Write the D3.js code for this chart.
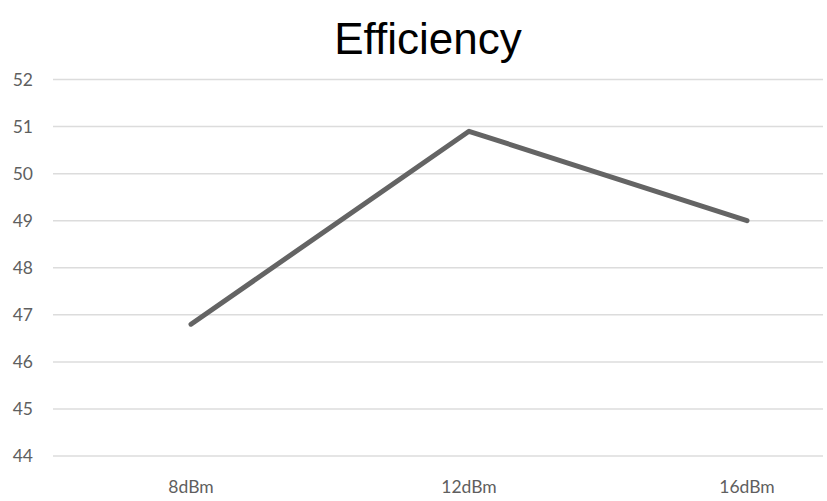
<!DOCTYPE html>
<html><head><meta charset="utf-8">
<script src="https://cdn.jsdelivr.net/npm/d3@7"></script>
<style>body{margin:0;background:#fff}</style>
</head><body>
<svg id="c" width="827" height="501"></svg>
<script>
const categories = ["8dBm", "12dBm", "16dBm"];
const values = [46.8, 50.9, 49.0];
const yTicks = [44, 45, 46, 47, 48, 49, 50, 51, 52];
const title = "Efficiency";

const svg = d3.select("#c");
const x = d3.scalePoint().domain(categories).range([191, 747]);
const y = d3.scaleLinear().domain([44, 52]).range([456, 79.5]);
const gridL = 53, gridR = 823;

svg.append("g").selectAll("line").data(yTicks).join("line")
  .attr("x1", gridL).attr("x2", gridR)
  .attr("y1", d => y(d)).attr("y2", d => y(d))
  .attr("stroke", "#dcdcdc").attr("stroke-width", 1.5);

svg.append("g").selectAll("text").data(yTicks).join("text")
  .attr("x", 33).attr("y", d => y(d)).attr("dy", "0.35em")
  .attr("text-anchor", "end")
  .attr("font-family", "Lato, 'Open Sans', sans-serif").attr("font-size", 17.5)
  .attr("fill", "#5f5f5f").text(d => d);

svg.append("g").selectAll("text").data(categories).join("text")
  .attr("x", d => x(d)).attr("y", 493)
  .attr("text-anchor", "middle")
  .attr("font-family", "Lato, 'Open Sans', sans-serif").attr("font-size", 17.5)
  .attr("fill", "#5f5f5f").text(d => d);

const line = d3.line().x((d, i) => x(categories[i])).y(d => y(d));
svg.append("path").datum(values).attr("d", line)
  .attr("fill", "none").attr("stroke", "#646464").attr("stroke-width", 5)
  .attr("stroke-linecap", "round").attr("stroke-linejoin", "round");

svg.append("text").attr("x", 428).attr("y", 54).attr("text-anchor", "middle")
  .attr("font-family", "'Liberation Sans', Arial, sans-serif").attr("font-size", 44)
  .attr("fill", "#000").text(title);
</script>
</body></html>
